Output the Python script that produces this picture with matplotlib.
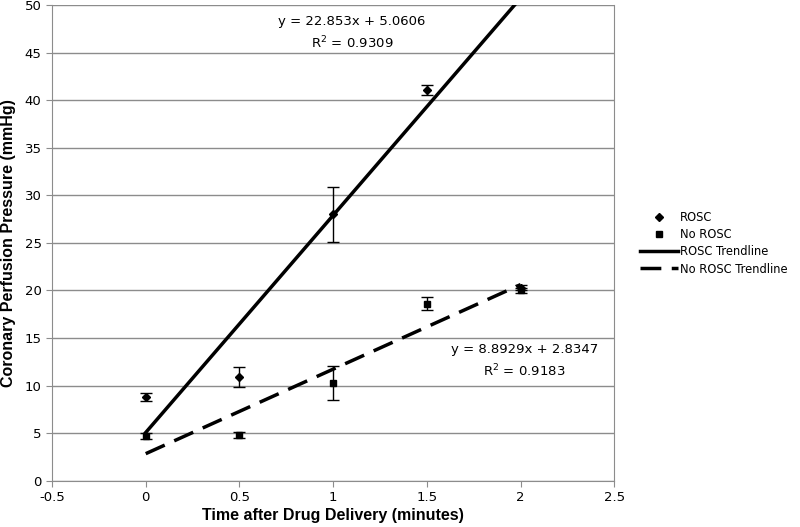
import numpy as np
import matplotlib
matplotlib.use("Agg")
import matplotlib.pyplot as plt
from matplotlib.lines import Line2D

# time points (minutes)
time = [0, 0.5, 1, 1.5, 2]

rosc_mean = [8.8, 10.9, 28.0, 41.1, 20.3]
rosc_err = [0.4, 1.0, 2.9, 0.5, 0.3]

norosc_mean = [4.7, 4.8, 10.3, 18.6, 20.0]
norosc_err = [0.3, 0.3, 1.8, 0.7, 0.3]

# trendline coefficients shown on the chart
rosc_fit = (22.853, 5.0606, 0.9309)
norosc_fit = (8.8929, 2.8347, 0.9183)

tick_font = "DejaVu Sans"
label_font = "Liberation Sans"

fig = plt.figure(figsize=(8, 5.27), dpi=100)
ax = fig.add_axes([0.065, 0.088, 0.703, 0.902])

ax.set_xlim(-0.5, 2.5)
ax.set_ylim(0, 50)
ax.set_xticks(np.arange(-0.5, 2.51, 0.5))
ax.set_yticks(np.arange(0, 51, 5))
ax.set_xticklabels(["-0.5", "0", "0.5", "1", "1.5", "2", "2.5"])
ax.yaxis.grid(True, color="#8c8c8c", lw=1)
ax.set_axisbelow(True)
for s in ax.spines.values():
    s.set_color("#8c8c8c")
ax.spines["top"].set_visible(False)
ax.tick_params(colors="#8c8c8c", labelcolor="black", length=4, direction="out")
for lab in ax.get_xticklabels() + ax.get_yticklabels():
    lab.set_fontfamily(tick_font)
    lab.set_fontsize(9.5)

# trendlines
xs = np.array([0, 2])
ax.plot(xs, rosc_fit[0] * xs + rosc_fit[1], color="black", lw=2.5, zorder=3)
ax.plot(xs, norosc_fit[0] * xs + norosc_fit[1], color="black", lw=2.5,
        dashes=(6, 3), zorder=3)

# data with error bars
ax.errorbar(time, rosc_mean, yerr=rosc_err, fmt="D", ms=4.5, color="black",
            ecolor="black", elinewidth=1, capsize=4, capthick=1, zorder=4)
ax.errorbar(time, norosc_mean, yerr=norosc_err, fmt="s", ms=4.5, color="black",
            ecolor="black", elinewidth=1, capsize=4, capthick=1, zorder=4)

# trendline equations
ax.text(1.1, 48.3, "y = %.3fx + %.4f" % rosc_fit[:2], ha="center", va="center",
        fontsize=9.5, family=tick_font)
ax.text(1.1, 46.0, "R$^2$ = %.4f" % rosc_fit[2], ha="center", va="center",
        fontsize=9.5, family=tick_font)
ax.text(2.02, 13.8, "y = %.4fx + %.4f" % norosc_fit[:2], ha="center", va="center",
        fontsize=9.5, family=tick_font)
ax.text(2.02, 11.5, "R$^2$ = %.4f" % norosc_fit[2], ha="center", va="center",
        fontsize=9.5, family=tick_font)

ax.set_xlabel("Time after Drug Delivery (minutes)", fontsize=11.5,
              fontweight="bold", family=label_font, labelpad=3)
ax.set_ylabel("Coronary Perfusion Pressure (mmHg)", fontsize=11.5,
              fontweight="bold", family=label_font, labelpad=6)

handles = [
    Line2D([], [], ls="none", marker="D", ms=4.5, color="black"),
    Line2D([], [], ls="none", marker="s", ms=4.5, color="black"),
    Line2D([], [], color="black", lw=2.5),
    Line2D([], [], color="black", lw=2.5, dashes=(6, 3)),
]
leg = fig.legend(handles, ["ROSC", "No ROSC", "ROSC Trendline", "No ROSC Trendline"],
                 loc="center left", bbox_to_anchor=(0.787, 0.538), frameon=False,
                 prop={"family": tick_font, "size": 8.3}, handlelength=3.3,
                 handletextpad=0.2, labelspacing=0.35)

fig.savefig("out.png", dpi=100)
